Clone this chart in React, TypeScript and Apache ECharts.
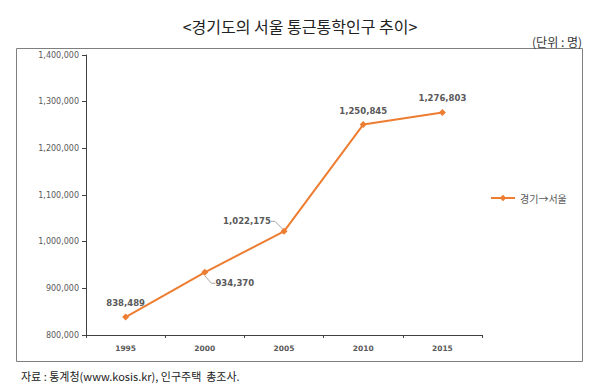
import React, { useEffect, useRef } from "react";
import * as echarts from "echarts";

const title = "<경기도의 서울 통근통학인구 추이>";
const unitText = "(단위 : 명)";
const sourceText = "자료 : 통계청(www.kosis.kr), 인구주택  총조사.";
const seriesName = "경기→서울";
const years = ["1995", "2000", "2005", "2010", "2015"];
const commuters = [838489, 934370, 1022175, 1250845, 1276803];
const labelShift: number[][] = [[0, 0], [30, 25], [-37, 4], [0, 0], [0, 0]];
const leaderShown = [false, true, true, false, false];

const fmt = (v: number) => v.toLocaleString("en-US");

export default function App() {
  const ref = useRef<HTMLDivElement>(null);
  useEffect(() => {
    if (!ref.current) return;
    const chart = echarts.init(ref.current, null, { renderer: "svg" });
    const gray = "#595959";
    const orange = "#ED7D31";
    chart.setOption({
      animation: false,
      backgroundColor: "#ffffff",
      title: [
        {
          text: title,
          left: "center",
          top: 13,
          textStyle: { fontFamily: "Noto Sans CJK KR", fontSize: 16, fontWeight: "normal", color: "#222" },
        },
        {
          text: unitText,
          right: 13,
          top: 30,
          textStyle: { fontFamily: "Noto Sans CJK KR", fontSize: 12, fontWeight: "normal", color: "#333" },
        },
        {
          text: sourceText,
          left: 16,
          top: 365,
          textStyle: { fontFamily: "Noto Sans CJK KR", fontSize: 11, fontWeight: "normal", color: "#222" },
        },
      ],
      graphic: [
        {
          type: "rect",
          shape: { x: 16.5, y: 48.5, width: 566, height: 313 },
          style: { fill: "none", stroke: "#7f7f7f", lineWidth: 1 },
          silent: true,
        },
      ],
      legend: {
        orient: "vertical",
        left: 485,
        top: 188,
        itemWidth: 24,
        itemHeight: 8,
        itemGap: 4,
        textStyle: { fontFamily: "Noto Sans CJK KR", fontSize: 10, color: gray },
        data: [seriesName],
      },
      grid: { left: 86, right: 118, top: 55, bottom: 49 },
      xAxis: {
        type: "category",
        data: years,
        boundaryGap: true,
        axisLine: { lineStyle: { color: "#404040", width: 1 } },
        axisTick: { show: true, length: 3, lineStyle: { color: "#404040" } },
        axisLabel: {
          color: gray,
          fontFamily: "DejaVu Sans",
          fontWeight: "bold",
          fontSize: 7.5,
          margin: 9,
        },
      },
      yAxis: {
        type: "value",
        min: 800000,
        max: 1400000,
        interval: 100000,
        axisLine: { show: true, lineStyle: { color: "#404040", width: 1 } },
        axisTick: { show: true, length: 4, lineStyle: { color: "#404040" } },
        splitLine: { show: false },
        axisLabel: {
          color: gray,
          fontFamily: "DejaVu Sans",
          fontSize: 8,
          margin: 7,
          formatter: (v: number) => fmt(v),
        },
      },
      series: [
        {
          name: seriesName,
          type: "line",
          data: commuters.map((v, i) => ({
            value: v,
            labelLine: { show: leaderShown[i] },
          })),
          symbol: "diamond",
          symbolSize: 7,
          showAllSymbol: true,
          itemStyle: { color: orange },
          lineStyle: { color: orange, width: 2 },
          label: {
            show: true,
            position: "top",
            distance: 6,
            color: gray,
            fontFamily: "DejaVu Sans",
            fontWeight: "bold",
            fontSize: 8.5,
            formatter: (p: any) => fmt(p.value),
          },
          labelLayout: (p: any) => ({
            dx: labelShift[p.dataIndex][0],
            dy: labelShift[p.dataIndex][1],
          }),
          labelLine: {
            show: true,
            length2: 4,
            smooth: false,
            lineStyle: { color: "#a6a6a6", width: 1 },
          },
        },
      ],
    });
    return () => chart.dispose();
  }, []);
  return (
    <div
      ref={ref}
      style={{ position: "fixed", left: 0, top: 0, width: 600, height: 384 }}
    />
  );
}
